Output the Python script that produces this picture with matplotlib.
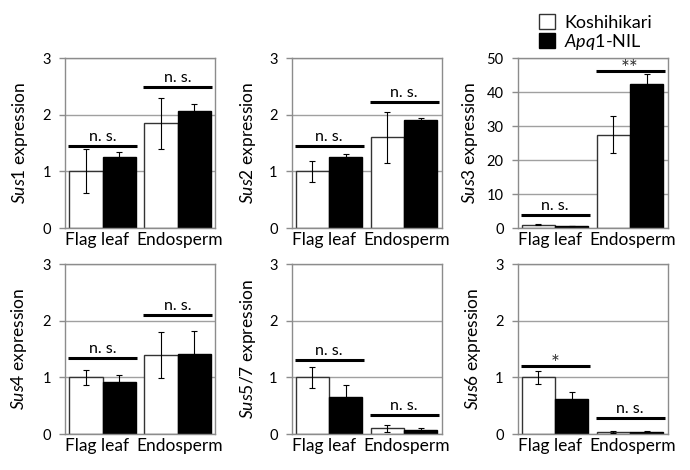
import matplotlib
matplotlib.use("Agg")
import matplotlib.pyplot as plt
from matplotlib.patches import Patch
from matplotlib.transforms import ScaledTranslation
import numpy as np

plt.rcParams['font.family'] = ['Lato', 'DejaVu Sans']
plt.rcParams['mathtext.fontset'] = 'custom'
plt.rcParams['mathtext.rm'] = 'Lato'
plt.rcParams['mathtext.it'] = 'Lato:italic'

categories = ["Flag leaf", "Endosperm"]
genes = ["Sus1", "Sus2", "Sus3", "Sus4", "Sus5/7", "Sus6"]
series_names = ["Koshihikari", r"$\it{Apq1}$-NIL"]

kosh_means = [[1.0, 1.85], [1.0, 1.60], [1.0, 27.4], [1.0, 1.39], [1.0, 0.10], [1.0, 0.035]]
kosh_err = [[0.39, 0.45], [0.18, 0.45], [0.2, 5.4], [0.13, 0.41], [0.19, 0.06], [0.11, 0.025]]
nil_means = [[1.25, 2.07], [1.25, 1.91], [0.6, 42.3], [0.92, 1.41], [0.66, 0.07], [0.61, 0.04]]
nil_err = [[0.10, 0.11], [0.06, 0.03], [0.1, 3.0], [0.12, 0.41], [0.21, 0.03], [0.13, 0.01]]
sig_heights = [[1.45, 2.48], [1.45, 2.23], [3.8, 46.2], [1.34, 2.10], [1.30, 0.33], [1.20, 0.28]]
sig_labels = [["n. s.", "n. s."], ["n. s.", "n. s."], ["n. s.", "**"],
              ["n. s.", "n. s."], ["n. s.", "n. s."], ["*", "n. s."]]
y_max = [3, 3, 50, 3, 3, 3]
y_step = [1, 1, 10, 1, 1, 1]

W, H = 690, 470
fig = plt.figure(figsize=(W / 100, H / 100), dpi=100)

lefts = [65, 291.5, 517.5]
tops = [58, 264]
ax_w, ax_h = 150, 170
label_x = [-0.233, -0.223, -0.247, -0.237, -0.22, -0.23]
label_shift_px = [-5, 2.5]

bw = 0.445
x = np.arange(len(categories))
frame_col = '#8c8c8c'

for i, gene in enumerate(genes):
    r, c = divmod(i, 3)
    left = lefts[c]
    top = tops[r]
    ax = fig.add_axes([left / W, (H - top - ax_h) / H, ax_w / W, ax_h / H])
    ax.set_xlim(-0.5, 1.5)
    ax.set_ylim(0, y_max[i])
    ax.set_yticks(np.arange(0, y_max[i] + y_step[i] / 2, y_step[i]))
    ax.yaxis.grid(True, color='#a0a0a0', linewidth=1.0, zorder=0)
    ax.set_axisbelow(True)
    for sp in ax.spines.values():
        sp.set_color(frame_col)
        sp.set_linewidth(1.0)
    ax.bar(x - bw / 2, kosh_means[i], bw, color='white', edgecolor='#333333',
           linewidth=1.0, zorder=2)
    ax.bar(x + bw / 2, nil_means[i], bw, color='black', edgecolor='black',
           linewidth=1.0, zorder=2)
    ax.errorbar(x - bw / 2, kosh_means[i], yerr=kosh_err[i], fmt='none',
                ecolor='black', elinewidth=0.8, capsize=2.5, capthick=0.8, zorder=3)
    ax.errorbar(x + bw / 2, nil_means[i], yerr=nil_err[i], fmt='none',
                ecolor='black', elinewidth=0.8, capsize=2.5, capthick=0.8, zorder=3)
    for j in range(len(categories)):
        yv = sig_heights[i][j]
        ax.plot([x[j] - 0.46, x[j] + 0.46], [yv, yv], color='black',
                linewidth=2.2, solid_capstyle='butt', zorder=4, clip_on=False)
        lab = sig_labels[i][j]
        if '*' in lab:
            ax.annotate(lab, (x[j], yv), xytext=(0, -5.5),
                        textcoords='offset points', ha='center', va='bottom',
                        fontsize=15, color='#333333')
        else:
            ax.annotate(lab, (x[j], yv), xytext=(0, 1.5),
                        textcoords='offset points', ha='center', va='bottom',
                        fontsize=11.5)
    ax.set_xticks(x)
    ax.set_xticklabels(categories, fontsize=12.5)
    ax.tick_params(axis='x', length=0, pad=3)
    ax.tick_params(axis='y', length=4, width=1.0, color=frame_col,
                   labelsize=10.5, pad=6)
    for tl, dx in zip(ax.get_xticklabels(), label_shift_px):
        tl.set_transform(tl.get_transform() + ScaledTranslation(dx / 100, 0, fig.dpi_scale_trans))
    ax.set_ylabel(r"$\it{" + gene + "}$ expression", fontsize=12.5)
    ax.yaxis.set_label_coords(label_x[i], 0.5)

handles = [Patch(facecolor='white', edgecolor='#333333', linewidth=1.0),
           Patch(facecolor='black', edgecolor='black', linewidth=1.0)]
fig.legend(handles, series_names, loc='upper left',
           bbox_to_anchor=(539 / W, 1 - 14 / H), frameon=False,
           handlelength=0.9, handleheight=0.9, handletextpad=0.5,
           labelspacing=0.05, borderpad=0, borderaxespad=0, fontsize=13)

fig.savefig("out.png", dpi=100)
